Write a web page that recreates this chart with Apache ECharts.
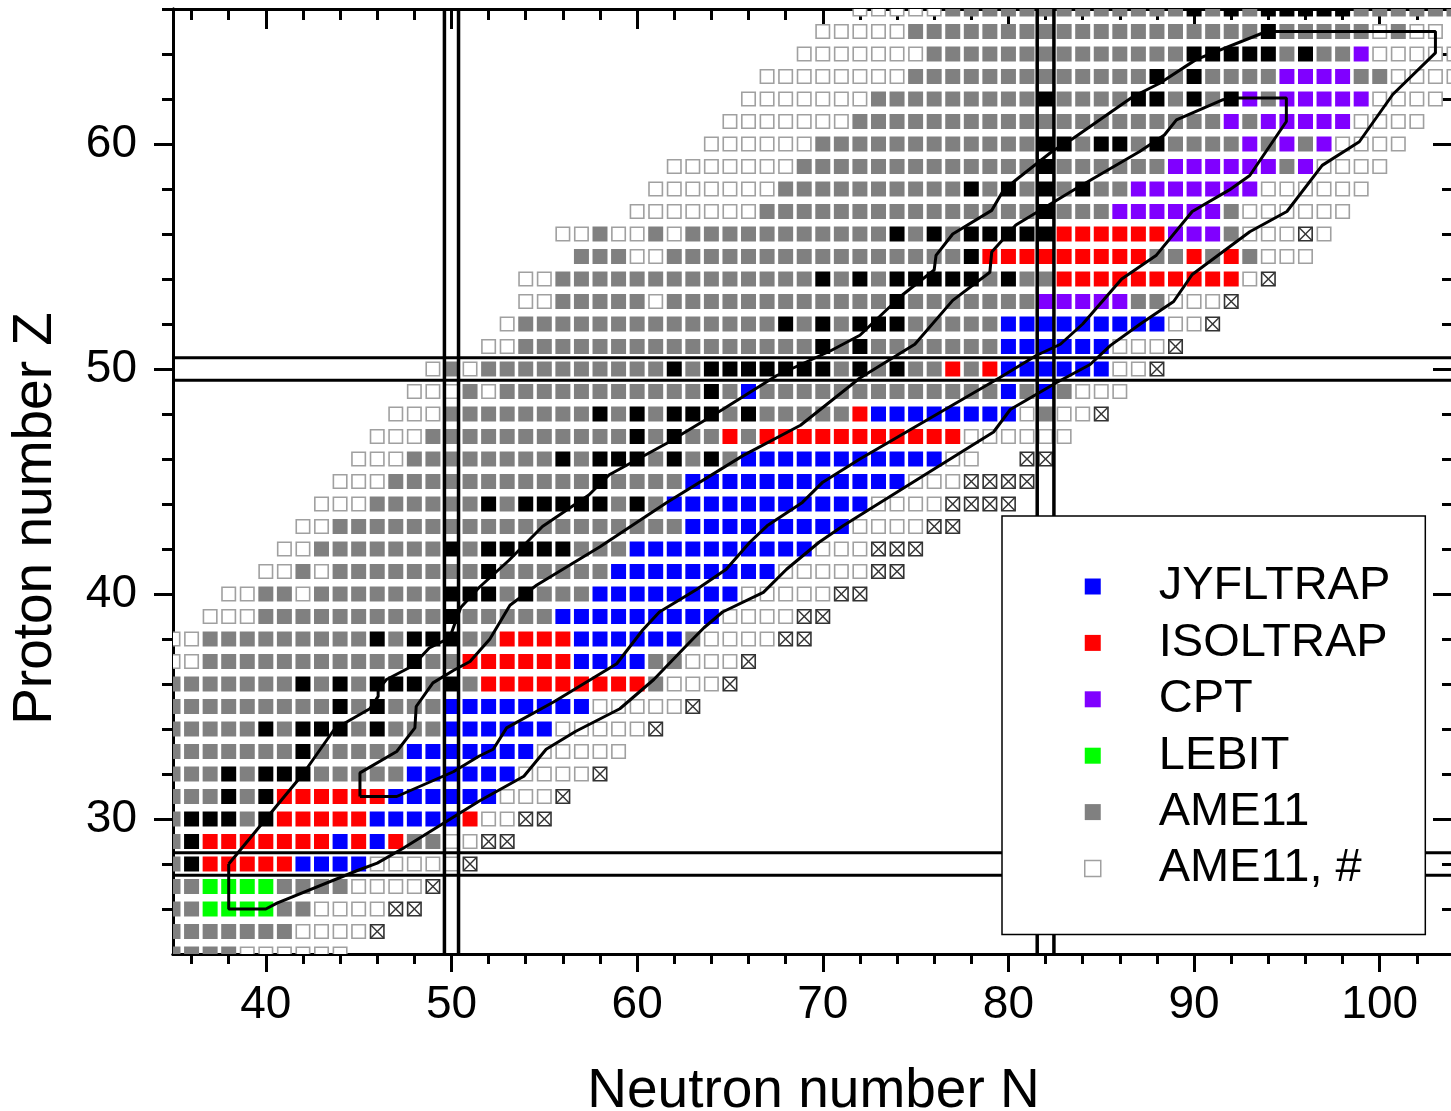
<!DOCTYPE html>
<html><head><meta charset="utf-8">
<script src="https://cdn.jsdelivr.net/npm/echarts@6/dist/echarts.min.js"></script>
<style>html,body{margin:0;padding:0;background:#fff}#c{width:1451px;height:1111px}</style>
</head><body><div id="c"></div>
<script>
// ---- data: one row per proton number Z, run-length encoded cells starting at N = rowStartN
// codes: b JYFLTRAP, r ISOLTRAP, p CPT, l LEBIT, g AME11, w AME11 #, k stable, x AME11 # (crossed), . empty
const rowZ = [24,25,26,27,28,29,30,31,32,33,34,35,36,37,38,39,40,41,42,43,44,45,46,47,48,49,50,51,52,53,54,55,56,57,58,59,60,61,62,63,64,65,66];
const rowStartN = [35,35,35,35,35,35,35,35,35,35,35,35,35,35,35,37,38,40,41,42,43,44,45,46,47,48,49,52,53,54,54,57,56,60,61,62,64,65,66,67,69,70,72];
const rowCells = [
"4g6w",
"7g4w1x",
"2g4l2g4w2x",
"2g4l4g4w1x",
"1g1k5r4b5w1x",
"1g1k7r1b1r1b1r2g2w2x",
"1g3k1g1k5r5b1r2w2x",
"3g1k1g1k6r6b3w1x",
"3g1k1g3k5g6b4w1x",
"7g1k5g7b5w",
"5g1k1g3k1g1k3g6b5w1x",
"9g1k1g1k3g8b5w1x",
"7g1k1g1k1g3k1g1k1g9r1g3w1x",
"2w11g1k2g6r4b2g3w1x",
"2w9g1k1g3k2g4r6b1g4w2x",
"3w10g1k5g9b4w2x",
"2w2g1w7g3k1g1k3g8b5w2x",
"2w1g1w8g1k6g9b5w2x",
"2w7g1k1g5k3g10b3w3x",
"2w19g9b4w2x",
"3w6g1k1g5k1g1k1g11b4w4x",
"3w11g1k4g12b3w4x",
"3w8g1k1g3k1g1k1g1k1g11b2w2.2x",
"3w11g1k1g1k2g1r1g11r6w",
"3w8g1k1g1k1g3k1g1k5g1r8b1w1g2w1x",
"3w1g1w11g1k1g1b13g1b1g1b1g3w",
"1w1g1w10g1k1g7k1g1k1g1k2g1r1g1r6b2w1x",
"2w16g1k1g1k7g6b3w1x",
"1w14g1k1g1k1g3k5g9b2w1x",
"2w5g1w12g1k7g5p2g3w1x",
"2w14g1k1g1k1g5k1g1k2g10r1w1x",
"3g2w16g1k9r2g1r1g1r1g3w",
"2w1g2w1g1w11g1k1g1k1g5k6r3p1g3w1x1w",
"7w15g1k3g6p1g6w",
"7w10g1k1g1k1g1k1g1k2g7p6w",
"7w13g1k6g6p1g1p4w",
"6w12g2k1g2k1g1k4g1p1g1p1g1p4w",
"7w20g1p1g5p4w",
"7w9g1k4g2k1g1k1g1k1p1g5p4w",
"8w13g1k1g1k4g4p2g4w",
"7w14g5k1g1k2g1p5w",
"5w19g1k5g1w1g2w",
"5w13g1k1g1k1g5k6g"
];

const xTicksMinor = [36,38,40,42,44,46,48,50,52,54,56,58,60,62,64,66,68,70,72,74,76,78,80,82,84,86,88,90,92,94,96,98,100,102,104];
const xTicksMajor = [40,50,60,70,80,90,100];
const yTicksMinor = [26,28,30,32,34,36,38,40,42,44,46,48,50,52,54,56,58,60,62,64,66];
const yTicksMajor = [30,40,50,60];

// shell-closure guide lines (N = 50, 82 ; Z = 28, 50)
const magicN = [49.62, 50.38, 81.55, 82.45];
const magicZ = [27.5, 28.5, 49.5, 50.5];

// contour outlines [N, Z]
const outerContour = [[38,28],[40,30],[42,32],[43.7,34],[45.6,34.9],[46.05,35.45],[46.05,35.75],[46.5,36.2],[47.9,36.8],[48.8,37.6],[49.9,38.05],[50.5,39.4],[51.5,40.3],[53.1,41.5],[54.9,43],[57.4,44.4],[58.5,45.3],[61.6,46.7],[64.6,48.2],[67.5,49.7],[70.4,50.8],[72,51.5],[73.4,52.6],[74.3,53.3],[76,54.4],[76.1,55.05],[77,56],[79.1,57.05],[79.7,57.9],[80.4,58.4],[82.4,59.7],[83.4,60.2],[86.7,62.1],[88.15,62.7],[90.1,63.75],[93.9,65],[103,65],[103,64.05],[100.7,62.2],[98.9,60.1],[96.9,59.05],[95,57],[93,56.1],[89.9,54.2],[88.9,53],[87.1,52],[85.5,51.05],[84.4,50.2],[82.6,49.4],[80.1,48.2],[79.2,47.2],[72,43.5],[71.1,43.03],[69.8,42.3],[68.05,41.1],[66.8,40.07],[64.6,39.2],[63.6,38.5],[63,38],[60.9,36.2],[59.07,34.9],[56.7,33.9],[55.1,33.1],[53.9,31.9],[51.5,30.8],[47.4,28.7],[46,28.04],[44.9,27.7],[40.6,26.26],[40,26],[38,26],[38,28]];
const innerContour = [[45.07,31],[45.07,32.05],[47.05,33],[48.03,34.05],[48.1,35],[49,36.05],[50.1,36.6],[51,37],[52.07,38],[53.15,39.5],[54.6,40.4],[58,42.1],[61.6,44.07],[65.7,46.15],[68.8,47.5],[72,49.6],[74.96,51.1],[77,53.05],[79,54.3],[79.1,55.2],[80.4,56.4],[82.4,57.4],[83.6,58],[87.07,59.67],[88.4,60.4],[89.05,61.07],[91.56,61.97],[92,62.04],[94.97,62.04],[94.97,61],[93,58.6],[91.9,57.96],[89.9,57],[87.97,55.06],[86.1,54],[84,52],[82.8,51.1],[81.5,50.6],[79.5,49.6],[72,46],[70,44.97],[68.9,44.07],[67,43.03],[66.07,42.3],[64.8,41.1],[63.2,40.2],[61.2,39.2],[60.3,38.4],[58.9,36.9],[55.5,35.2],[52.97,34.05],[52.25,33.1],[51.5,32.8],[50.1,32.1],[47.05,31],[45.07,31]];

const legendNames = ['JYFLTRAP','ISOLTRAP','CPT','LEBIT','AME11','AME11, #'];

// ---- build
const FONT = '"Liberation Sans", Arial, Helvetica, sans-serif';
const kinds = {
  b:{name:'JYFLTRAP', fill:'#0000ff', stroke:null, lw:0, cross:false},
  r:{name:'ISOLTRAP', fill:'#ff0000', stroke:null, lw:0, cross:false},
  p:{name:'CPT', fill:'#8000ff', stroke:null, lw:0, cross:false},
  l:{name:'LEBIT', fill:'#00ff00', stroke:null, lw:0, cross:false},
  g:{name:'AME11', fill:'#808080', stroke:null, lw:0, cross:false},
  w:{name:'AME11, #', fill:'#ffffff', stroke:'#a0a0a0', lw:1.6, cross:false},
  k:{name:'stable', fill:'#000000', stroke:null, lw:0, cross:false},
  x:{name:'AME11, # (x)', fill:'#ffffff', stroke:'#333333', lw:1.6, cross:true}
};
const buckets = {}; Object.keys(kinds).forEach(k => buckets[k] = []);
rowCells.forEach((s, i) => {
  let n = rowStartN[i];
  const re = /(\d+)([a-z.])/g; let m;
  while ((m = re.exec(s))) {
    const cnt = +m[1], code = m[2];
    for (let j = 0; j < cnt; j++) { if (buckets[code]) buckets[code].push([n, rowZ[i]]); n++; }
  }
});

const CELL = 15;
function renderer(kd) {
  return function (params, api) {
    const c = api.coord([api.value(0), api.value(1)]);
    const h = CELL / 2, ins = kd.lw / 2;
    const ch = [{type:'rect', shape:{x:c[0]-h+ins, y:c[1]-h+ins, width:CELL-kd.lw, height:CELL-kd.lw},
      style:{fill:kd.fill, stroke:kd.stroke || null, lineWidth:kd.lw}}];
    if (kd.cross) {
      ch.push({type:'line', shape:{x1:c[0]-h+ins, y1:c[1]-h+ins, x2:c[0]+h-ins, y2:c[1]+h-ins}, style:{stroke:kd.stroke, lineWidth:1.4}});
      ch.push({type:'line', shape:{x1:c[0]+h-ins, y1:c[1]-h+ins, x2:c[0]-h+ins, y2:c[1]+h-ins}, style:{stroke:kd.stroke, lineWidth:1.4}});
    }
    return {type:'group', children:ch};
  };
}

const series = [];
['g','w','x','k','b','r','p','l'].forEach(code => {
  const kd = kinds[code];
  series.push({type:'custom', name:kd.name, data:buckets[code], encode:{x:0, y:1}, clip:true,
    renderItem:renderer(kd), itemStyle:{color:kd.fill, borderColor:kd.stroke || kd.fill, borderWidth:kd.lw}, z:2, silent:true});
});
const lineStyleBase = {color:'#000', width:3};
series.push({type:'line', name:'outer', data:outerContour, symbol:'none', showSymbol:false, lineStyle:lineStyleBase, z:5, silent:true, clip:true});
series.push({type:'line', name:'inner', data:innerContour, symbol:'none', showSymbol:false, lineStyle:lineStyleBase, z:5, silent:true, clip:true});
magicN.forEach(v => series.push({type:'line', data:[[v,24],[v,66]], symbol:'none', lineStyle:{color:'#000', width:3.5}, z:6, silent:true}));
magicZ.forEach(v => series.push({type:'line', data:[[35,v],[104,v]], symbol:'none', lineStyle:{color:'#000', width:3}, z:6, silent:true}));

const legendData = legendNames.map(nm => {
  const kd = Object.values(kinds).find(k => k.name === nm);
  return {name:nm, icon:'rect', itemStyle:{color:kd.fill, borderColor:kd.stroke || kd.fill, borderWidth:kd.stroke ? 1.5 : 0}};
});

const axLine = {show:true, onZero:false, lineStyle:{color:'#000', width:3}};
function xa(pos, ticks, len, inside, extra) {
  return Object.assign({type:'value', min:35, max:104, position:pos, axisLine:axLine,
    axisTick:{show:true, inside:inside, customValues:ticks, length:len, lineStyle:{color:'#000', width:3}},
    axisLabel:{show:false}, splitLine:{show:false}}, extra || {});
}
function ya(pos, ticks, len, inside, extra) {
  return Object.assign({type:'value', min:24, max:66, position:pos, axisLine:axLine,
    axisTick:{show:true, inside:inside, customValues:ticks, length:len, lineStyle:{color:'#000', width:3}},
    axisLabel:{show:false}, splitLine:{show:false}}, extra || {});
}

const option = {
  animation:false,
  backgroundColor:'#fff',
  grid:{left:173, right:-3, top:9, bottom:157, containLabel:false, outerBoundsMode:'none'},
  xAxis:[
    xa('bottom', xTicksMinor, 10, false),
    xa('bottom', xTicksMajor, 18, false, {axisLabel:{show:true, customValues:xTicksMajor, fontSize:46, margin:28, color:'#000', fontFamily:FONT},
      name:'Neutron number N', nameLocation:'middle', nameGap:110, nameTextStyle:{fontSize:55, color:'#000', fontFamily:FONT}}),
    xa('top', xTicksMinor, 11, true),
    xa('top', xTicksMajor, 20, true)
  ],
  yAxis:[
    ya('left', yTicksMinor, 11, false),
    ya('left', yTicksMajor, 19, false, {axisLabel:{show:true, customValues:yTicksMajor, fontSize:46, margin:36, color:'#000', fontFamily:FONT},
      name:'Proton number Z', nameLocation:'middle', nameGap:110, nameTextStyle:{fontSize:55, color:'#000', fontFamily:FONT, padding:[0,74,0,0]}}),
    ya('right', yTicksMinor, 12, true),
    ya('right', yTicksMajor, 21, true)
  ],
  legend:{show:true, orient:'vertical', left:1002, top:516, itemWidth:16, itemHeight:16, itemGap:9.4,
    padding:[47,35,42.5,82], backgroundColor:'#fff', borderColor:'#000', borderWidth:1.5, selectedMode:false,
    textStyle:{fontSize:47, color:'#000', fontFamily:FONT, lineHeight:46, padding:[0,0,0,53]}, data:legendData, z:10},
  series:series
};
const chart = echarts.init(document.getElementById('c'), null, {renderer:'canvas'});
chart.setOption(option);
</script></body></html>
